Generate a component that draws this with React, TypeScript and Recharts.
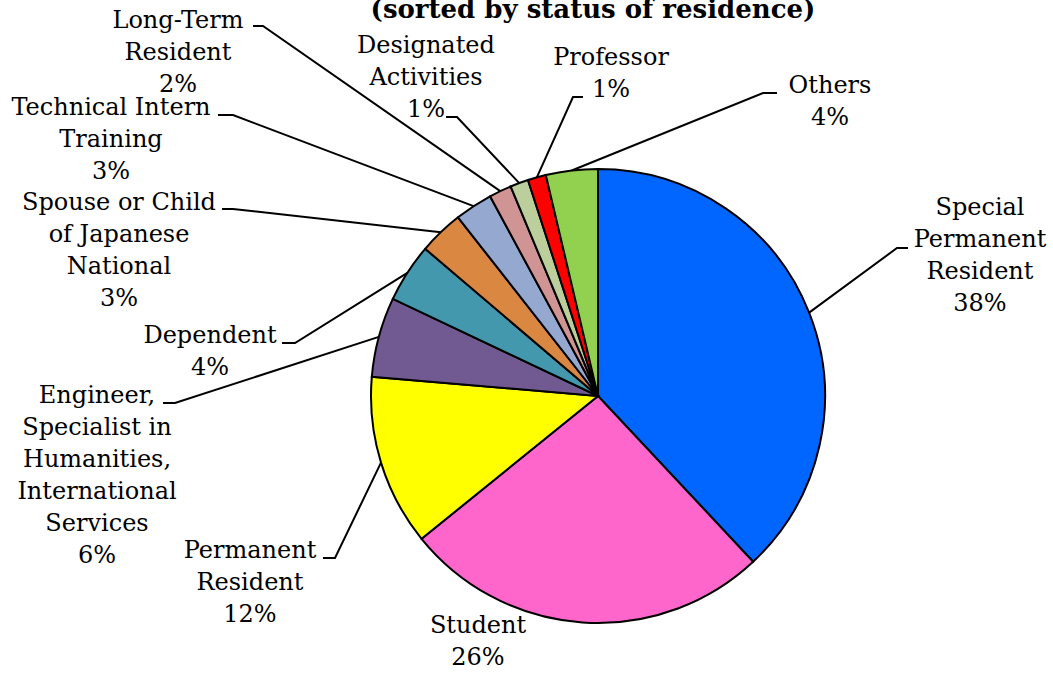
import { Cell, Pie, PieChart } from "recharts";

const NAMES = [
  "Special Permanent Resident",
  "Student",
  "Permanent Resident",
  "Engineer, Specialist in Humanities, International Services",
  "Dependent",
  "Spouse or Child of Japanese National",
  "Technical Intern Training",
  "Long-Term Resident",
  "Designated Activities",
  "Professor",
  "Others",
];

// label text broken into lines the way the original chart wraps them
const LABEL_LINES = [
  ["Special", "Permanent", "Resident"],
  ["Student"],
  ["Permanent", "Resident"],
  ["Engineer,", "Specialist in", "Humanities,", "International", "Services"],
  ["Dependent"],
  ["Spouse or Child", "of Japanese", "National"],
  ["Technical Intern", "Training"],
  ["Long-Term", "Resident"],
  ["Designated", "Activities"],
  ["Professor"],
  ["Others"],
];

const VALUES = [38.1, 26.2, 12.2, 5.7, 4.2, 3.2, 2.7, 1.6, 1.3, 1.3, 3.7];

const COLORS = [
  "#0066FF",
  "#FF66CC",
  "#FFFF00",
  "#715A91",
  "#4398AE",
  "#DA8841",
  "#94A8D0",
  "#D09494",
  "#BBCE9B",
  "#FF0000",
  "#92D050",
];

// where each label sits: text centre, first line y, leader elbow and tail
const LAYOUT = [
  { x: 980, y: 207, elbow: [897, 248], tail: 908 },
  { x: 478, y: 625, elbow: null, tail: 0 },
  { x: 250, y: 550, elbow: [335, 558], tail: 323 },
  { x: 97, y: 395, elbow: [175, 403], tail: 163 },
  { x: 210, y: 335, elbow: [295, 343], tail: 282 },
  { x: 119, y: 202, elbow: [233, 209], tail: 222 },
  { x: 111, y: 107, elbow: [233, 115], tail: 218 },
  { x: 178, y: 20, elbow: [263, 26], tail: 253 },
  { x: 426, y: 45, elbow: [457, 117], tail: 446 },
  { x: 611, y: 57, elbow: [573, 97], tail: 583 },
  { x: 830, y: 85, elbow: [763, 93], tail: 777 },
];

const data = NAMES.map((name, i) => ({ name, value: VALUES[i] }));

const FONT = "'DejaVu Serif', serif";
const LINE_H = 32;
const RAD = Math.PI / 180;

function renderLabel(props: any) {
  const { cx, cy, midAngle, outerRadius, percent, index } = props;
  const lay = LAYOUT[index];
  const lines = [...LABEL_LINES[index], `${Math.round(percent * 100)}%`];
  const sx = cx + outerRadius * Math.cos(-midAngle * RAD);
  const sy = cy + outerRadius * Math.sin(-midAngle * RAD);
  return (
    <g key={`lbl-${index}`}>
      {lay.elbow && (
        <polyline
          points={`${sx},${sy} ${lay.elbow[0]},${lay.elbow[1]} ${lay.tail},${lay.elbow[1]}`}
          fill="none"
          stroke="#000"
          strokeWidth={2}
        />
      )}
      <text
        x={lay.x}
        y={lay.y}
        textAnchor="middle"
        fontFamily={FONT}
        fontSize={24}
        fill="#000"
      >
        {lines.map((l, j) => (
          <tspan key={j} x={lay.x} y={lay.y + j * LINE_H} dominantBaseline="central">
            {l}
          </tspan>
        ))}
      </text>
    </g>
  );
}

export default function App() {
  return (
    <div style={{ position: "absolute", left: 0, top: 0, background: "#fff" }}>
      <PieChart width={1053} height={675} margin={{ top: 0, right: 0, bottom: 0, left: 0 }}>
        <text
          x={593}
          y={18}
          textAnchor="middle"
          fontFamily={FONT}
          fontWeight="bold"
          fontSize={26}
          fill="#000"
        >
          (sorted by status of residence)
        </text>
        <Pie
          data={data}
          dataKey="value"
          nameKey="name"
          cx={598}
          cy={396}
          outerRadius={227}
          startAngle={90}
          endAngle={-270}
          stroke="#000"
          strokeWidth={2}
          label={renderLabel}
          labelLine={false}
          isAnimationActive={false}
        >
          {data.map((entry, i) => (
            <Cell key={entry.name} fill={COLORS[i]} />
          ))}
        </Pie>
      </PieChart>
    </div>
  );
}
